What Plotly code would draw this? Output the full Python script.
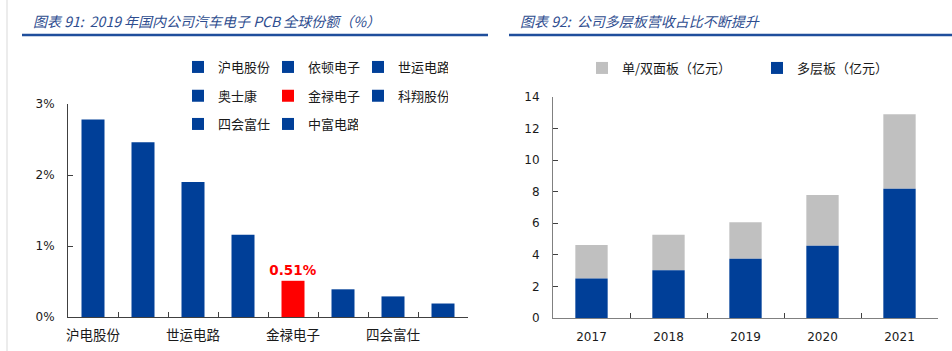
import plotly.graph_objects as go

# ---------------- data ----------------
companies = ["沪电股份", "依顿电子", "世运电路", "奥士康", "金禄电子", "科翔股份", "四会富仕", "中富电路"]
share_pct = [2.78, 2.46, 1.90, 1.16, 0.51, 0.39, 0.29, 0.19]
highlight_company = "金禄电子"
highlight_label = "0.51%"
left_yticks = [0, 1, 2, 3]
left_yticktext = ["0%", "1%", "2%", "3%"]

years = ["2017", "2018", "2019", "2020", "2021"]
multilayer = [2.50, 3.03, 3.75, 4.57, 8.19]
single_double = [2.13, 2.25, 2.31, 3.22, 4.71]
right_yticks = [0, 2, 4, 6, 8, 10, 12, 14]

title_left = "图表 91:  2019 年国内公司汽车电子 PCB 全球份额（%）"
title_right = "图表 92:  公司多层板营收占比不断提升"
name_single = "单/双面板（亿元）"
name_multi = "多层板（亿元）"

# ---------------- style ----------------
W, H = 952, 351
BLUE = "#003f98"
RED = "#ff0000"
GRAY = "#c0c0c0"
CJK = "Noto Sans CJK SC"
LAT = "DejaVu Sans"


def px(x):
    return x / W


def py(y):
    return 1 - y / H


fig = go.Figure()

legend_rows = ["legend", "legend", "legend", "legend2", "legend2", "legend2", "legend3", "legend3"]
for i, (c, v) in enumerate(zip(companies, share_pct)):
    is_hl = c == highlight_company
    fig.add_trace(go.Bar(
        x=[c], y=[v], name=c, xaxis="x", yaxis="y",
        marker=dict(color=RED if is_hl else BLUE, line=dict(width=0)),
        width=0.46,
        legend=legend_rows[i],
        text=[highlight_label] if is_hl else None,
        textposition="outside" if is_hl else None,
        constraintext="none",
        textfont=dict(color=RED, size=13.5, family=LAT, weight="bold") if is_hl else None,
        cliponaxis=False,
        hoverinfo="x+y",
    ))

fig.add_trace(go.Bar(
    x=years, y=single_double, base=multilayer, name=name_single,
    xaxis="x2", yaxis="y2", marker=dict(color=GRAY, line=dict(width=0)),
    width=0.42, legend="legend4",
))
fig.add_trace(go.Bar(
    x=years, y=multilayer, name=name_multi,
    xaxis="x2", yaxis="y2", marker=dict(color=BLUE, line=dict(width=0)),
    width=0.42, legend="legend4",
))

ax_common = dict(showgrid=False, zeroline=False, showline=True, linewidth=1,
                 ticks="inside", ticklen=5, automargin=False, fixedrange=True)

left_ticktext = [c if i % 2 == 0 else "" for i, c in enumerate(companies)]

legend_common = dict(orientation="h", xanchor="left", yanchor="middle",
                     bgcolor="rgba(0,0,0,0)", borderwidth=0,
                     font=dict(family=CJK, size=13, color="#1a1a1a"),
                     entrywidthmode="pixels")

fig.update_layout(
    width=W, height=H, autosize=False,
    margin=dict(l=0, r=0, t=0, b=0, pad=0),
    template="none",
    paper_bgcolor="white", plot_bgcolor="rgba(0,0,0,0)",
    barmode="overlay",
    showlegend=True,
    xaxis=dict(ax_common, domain=[px(68), px(468)], anchor="y", type="category",
               categoryorder="array", categoryarray=companies,
               tickmode="array", tickvals=companies, ticktext=left_ticktext,
               tickangle=0,
               tickson="boundaries", linecolor="#404040", tickcolor="#404040",
               tickfont=dict(family=CJK, size=13.5, color="#1a1a1a"),
               ticklabelstandoff=6),
    yaxis=dict(ax_common, domain=[py(317), py(104)], anchor="x", range=[0, 3],
               tickmode="array", tickvals=left_yticks, ticktext=left_yticktext,
               linecolor="#404040", tickcolor="#404040",
               tickfont=dict(family=LAT, size=12, color="#1a1a1a"),
               ticklabelstandoff=10),
    xaxis2=dict(ax_common, domain=[px(553), px(938)], anchor="y2", type="category",
                categoryorder="array", categoryarray=years, tickangle=0,
                tickson="boundaries", linecolor="#808080", tickcolor="#404040",
                tickfont=dict(family=LAT, size=12, color="#1a1a1a"),
                ticklabelstandoff=8),
    yaxis2=dict(ax_common, domain=[py(318), py(97)], anchor="x2", range=[0, 14],
                tickmode="array", tickvals=right_yticks,
                linecolor="#808080", tickcolor="#404040",
                tickfont=dict(family=LAT, size=12, color="#1a1a1a"),
                ticklabelstandoff=10),
    legend=dict(legend_common, x=px(178), y=py(67), entrywidth=45),
    legend2=dict(legend_common, x=px(178), y=py(95.7), entrywidth=45),
    legend3=dict(legend_common, x=px(178), y=py(124), entrywidth=45),
    legend4=dict(legend_common, x=px(582), y=py(68), entrywidth=130),
    annotations=[
        dict(text=title_left, xref="paper", yref="paper", x=px(31), y=py(21),
             xanchor="left", yanchor="middle", showarrow=False,
             font=dict(family=CJK, size=14, color="#2e4d8f", style="italic")),
        dict(text=title_right, xref="paper", yref="paper", x=px(518), y=py(21),
             xanchor="left", yanchor="middle", showarrow=False,
             font=dict(family=CJK, size=14, color="#2e4d8f", style="italic")),
    ],
    shapes=[
        dict(type="line", xref="paper", yref="paper", x0=px(22), x1=px(488),
             y0=py(35), y1=py(35), line=dict(color="#1f4e9c", width=2.5)),
        dict(type="line", xref="paper", yref="paper", x0=px(509), x1=1,
             y0=py(35), y1=py(35), line=dict(color="#1f4e9c", width=2.5)),
        dict(type="line", xref="paper", yref="paper", x0=px(7), x1=px(7),
             y0=0, y1=1, line=dict(color="#d9d9d9", width=1)),
    ],
)

fig.write_html("out.html")
